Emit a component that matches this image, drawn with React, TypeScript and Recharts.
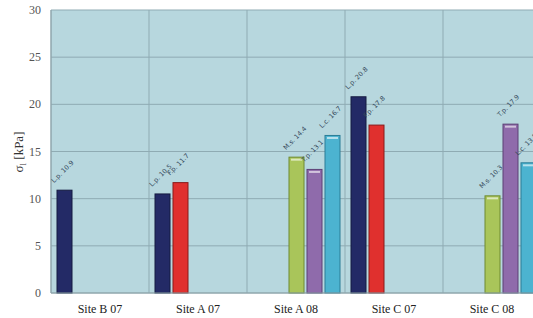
import React from "react";
import { BarChart, Bar, XAxis, YAxis, CartesianGrid, LabelList } from "recharts";

const categories = ["Site B 07", "Site A 07", "Site A 08", "Site C 07", "Site C 08"];
const lpValues = [10.9, 10.5, null, 20.8, null];
const fpValues = [null, 11.7, null, 17.8, null];
const msValues = [null, null, 14.4, null, 10.3];
const tpValues = [null, null, 13.1, null, 17.9];
const lcValues = [null, null, 16.7, null, 13.8];
const yTicks = [0, 5, 10, 15, 20, 25, 30];

const SERIF = "'Liberation Serif', 'Times New Roman', serif";

const seriesDefs = [
  { key: "lp", prefix: "L.p.", values: lpValues, fill: "#232a66", stroke: "#151a40", hl: false },
  { key: "fp", prefix: "F.p.", values: fpValues, fill: "#e0302e", stroke: "#8a1a18", hl: false },
  { key: "ms", prefix: "M.s.", values: msValues, fill: "#a9c55a", stroke: "#6f8a30", hl: true },
  { key: "tp", prefix: "T.p.", values: tpValues, fill: "#8f6bab", stroke: "#5c4175", hl: true },
  { key: "lc", prefix: "L.c.", values: lcValues, fill: "#4cb3d0", stroke: "#2a7d96", hl: true },
];

const data = categories.map((c, i) => {
  const row: any = { name: c };
  seriesDefs.forEach((s) => {
    row[s.key] = s.values[i];
  });
  return row;
});

const makeShape = (hl: boolean) => (props: any) => {
  const { x, y, width, height, fill, stroke } = props;
  if (height == null || height <= 0) return null;
  return (
    <g>
      <rect x={x} y={y} width={width} height={height} fill={fill} stroke={stroke} strokeWidth={1} />
      {hl && <rect x={x + 2} y={y + 1.5} width={Math.max(width - 4, 0)} height={2} fill="#ffffff" opacity={0.6} />}
    </g>
  );
};

const makeLabel = (prefix: string) => (props: any) => {
  const { x, y, value } = props;
  if (value == null) return null;
  const lx = x - 3;
  const ly = y - 7;
  return (
    <text
      x={lx}
      y={ly}
      transform={`rotate(-45 ${lx} ${ly})`}
      style={{ fontSize: 6.5, fontFamily: "'DejaVu Sans', sans-serif", fill: "#34475a" }}
      textAnchor="start"
    >
      {`${prefix} ${value}`}
    </text>
  );
};

const XTick = (props: any) => {
  const { x, y, payload } = props;
  return (
    <text x={x} y={y + 12} textAnchor="middle" style={{ fontFamily: SERIF, fontSize: 12, fill: "#222" }}>
      {payload.value}
    </text>
  );
};

const YTick = (props: any) => {
  const { x, y, payload } = props;
  return (
    <text x={x - 2} y={y + 4} textAnchor="end" style={{ fontFamily: SERIF, fontSize: 12, fill: "#555" }}>
      {payload.value}
    </text>
  );
};

const YLabel = () => (
  <text x={23} y={152} transform="rotate(-90 23 152)" textAnchor="middle" style={{ fontFamily: SERIF, fontSize: 13, fill: "#333" }}>
    σ<tspan style={{ fontSize: 9 }} dy={3}>l</tspan>
    <tspan dy={-3}> [kPa]</tspan>
  </text>
);

export default function App() {
  return (
    <div style={{ position: "absolute", left: 0, top: 0 }}>
      <BarChart
        width={560}
        height={318}
        data={data}
        margin={{ top: 10, right: 19, bottom: 0, left: 0 }}
        barCategoryGap={6}
        barGap={3}
      >
        <CartesianGrid
          fill="#b7d7de"
          stroke="#8fabb3"
          verticalCoordinatesGenerator={({ offset }: any) =>
            categories.map((_, i) => offset.left + (i * offset.width) / categories.length)
          }
        />
        <XAxis
          dataKey="name"
          height={25}
          tickLine={false}
          axisLine={{ stroke: "#8fa4aa" }}
          tick={<XTick />}
        />
        <YAxis
          width={51}
          domain={[0, 30]}
          ticks={yTicks}
          tickLine={false}
          axisLine={{ stroke: "#8fa4aa" }}
          tick={<YTick />}
        />
        {seriesDefs.map((s) => (
          <Bar
            key={s.key}
            dataKey={s.key}
            fill={s.fill}
            stroke={s.stroke}
            shape={makeShape(s.hl)}
            isAnimationActive={false}
          >
            <LabelList dataKey={s.key} content={makeLabel(s.prefix)} />
          </Bar>
        ))}
        <YLabel />
      </BarChart>
    </div>
  );
}
